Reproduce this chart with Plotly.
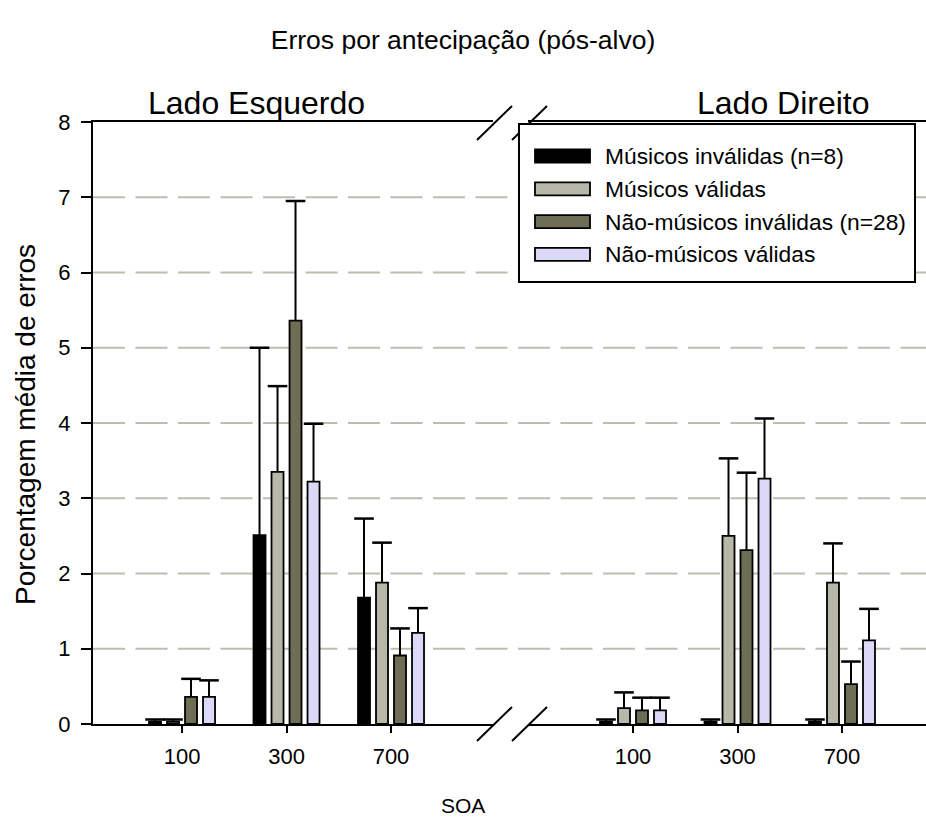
import plotly.graph_objects as go

# ---------------- data ----------------
categories = ["100", "300", "700"]
series_names = ["Músicos inválidas (n=8)", "Músicos válidas",
                "Não-músicos inválidas (n=28)", "Não-músicos válidas"]
series_colors = ["#000000", "#b8b8a8", "#6e6e56", "#dadaf8"]
panel_titles = ["Lado Esquerdo", "Lado Direito"]
y_ticks = [0, 1, 2, 3, 4, 5, 6, 7, 8]

# Lado Esquerdo (means and upper error)
left_mus_inv = [0.03, 2.51, 1.68]
left_mus_inv_err = [0.03, 2.49, 1.05]
left_mus_val = [0.03, 3.35, 1.88]
left_mus_val_err = [0.03, 1.14, 0.53]
left_nmus_inv = [0.36, 5.36, 0.91]
left_nmus_inv_err = [0.24, 1.59, 0.36]
left_nmus_val = [0.36, 3.22, 1.21]
left_nmus_val_err = [0.22, 0.77, 0.33]

# Lado Direito
right_mus_inv = [0.03, 0.03, 0.03]
right_mus_inv_err = [0.03, 0.03, 0.03]
right_mus_val = [0.21, 2.50, 1.88]
right_mus_val_err = [0.21, 1.03, 0.52]
right_nmus_inv = [0.18, 2.31, 0.53]
right_nmus_inv_err = [0.17, 1.03, 0.30]
right_nmus_val = [0.18, 3.26, 1.11]
right_nmus_val_err = [0.17, 0.80, 0.42]

left_values = [left_mus_inv, left_mus_val, left_nmus_inv, left_nmus_val]
left_errors = [left_mus_inv_err, left_mus_val_err, left_nmus_inv_err, left_nmus_val_err]
right_values = [right_mus_inv, right_mus_val, right_nmus_inv, right_nmus_val]
right_errors = [right_mus_inv_err, right_mus_val_err, right_nmus_inv_err, right_nmus_val_err]

# ---------------- layout constants ----------------
W, H = 926, 819
PLOT_TOP, PLOT_BOTTOM = 122, 724
FONT = "Liberation Sans, Arial, sans-serif"
BARGAP = 0.311
BARGROUPGAP = 0.333


def px_x(x):
    return x / W


def px_y(y):
    return (PLOT_BOTTOM - y) / (PLOT_BOTTOM - PLOT_TOP)


xs = list(range(len(categories)))
n_series = len(series_names)
slot = (1 - BARGAP) / n_series

fig = go.Figure()

panels = [("x", "y", left_values, left_errors), ("x2", "y2", right_values, right_errors)]
for xa, ya, vals, errs in panels:
    for k in range(n_series):
        fig.add_trace(go.Bar(
            x=xs, y=vals[k], name=series_names[k], xaxis=xa, yaxis=ya,
            marker=dict(color=series_colors[k], line=dict(color="black", width=1.8)),
            showlegend=False,
        ))
    # error bars (upper only)
    lx, ly, cx, cy = [], [], [], []
    for k in range(n_series):
        for i, x in enumerate(xs):
            xe = x + (k - (n_series - 1) / 2) * slot
            top = vals[k][i] + errs[k][i]
            lx += [xe, xe, None]
            ly += [vals[k][i], top, None]
            cx.append(xe)
            cy.append(top)
    fig.add_trace(go.Scatter(x=lx, y=ly, mode="lines", xaxis=xa, yaxis=ya,
                             line=dict(color="black", width=2), showlegend=False,
                             hoverinfo="skip"))
    fig.add_trace(go.Scatter(x=cx, y=cy, mode="markers", xaxis=xa, yaxis=ya,
                             marker=dict(symbol="line-ew", size=14,
                                         line=dict(color="black", width=2.5)),
                             showlegend=False, hoverinfo="skip"))

axis_common = dict(
    showgrid=False, zeroline=False, showline=True, linecolor="black", linewidth=2,
    mirror=True, ticks="outside", ticklen=7, tickwidth=2, tickcolor="black",
    tickvals=xs, ticktext=categories, ticklabelstandoff=5,
    tickfont=dict(family=FONT, size=22, color="black"),
)

fig.update_layout(
    width=W, height=H,
    margin=dict(l=0, r=0, t=PLOT_TOP, b=H - PLOT_BOTTOM, pad=0),
    paper_bgcolor="white", plot_bgcolor="rgba(0,0,0,0)",
    barmode="group", bargap=BARGAP, bargroupgap=BARGROUPGAP,
    showlegend=False,
    title=dict(text="Erros por antecipação (pós-alvo)", x=0.5, xanchor="center",
               y=1 - 40 / H, yanchor="middle",
               font=dict(family=FONT, size=26.5, color="black")),
    xaxis=dict(domain=[px_x(93), px_x(493)], range=[-0.852, 2.976], anchor="y",
               **axis_common),
    xaxis2=dict(domain=[px_x(528), 1.0], range=[-1.005, 2.804], anchor="y2",
                **axis_common),
    yaxis=dict(domain=[0, 1], range=[0, 8], anchor="x", showgrid=False, zeroline=False,
               showline=True, linecolor="black", linewidth=2, ticks="outside",
               ticklen=10, tickwidth=2, tickcolor="black", tickvals=y_ticks,
               ticklabelstandoff=6,
               tickfont=dict(family=FONT, size=22, color="black")),
    yaxis2=dict(domain=[0, 1], range=[0, 8], anchor="x2", showgrid=False,
                zeroline=False, showline=False, showticklabels=False, ticks=""),
)

shapes = []
# dashed gridlines spanning both panels
for v in y_ticks[1:-1]:
    shapes.append(dict(type="line", xref="paper", yref="y", x0=px_x(93), x1=1.0,
                       y0=v, y1=v, layer="below",
                       line=dict(color="#bdbdae", width=2, dash="32px,10.5px")))
# axis break marks
for yb in (PLOT_TOP + 1, PLOT_BOTTOM):
    for xb in (477, 512):
        shapes.append(dict(type="line", xref="paper", yref="paper",
                           x0=px_x(xb), y0=px_y(yb + 17), x1=px_x(xb + 35), y1=px_y(yb - 17),
                           line=dict(color="black", width=2)))
# legend box
shapes.append(dict(type="rect", xref="paper", yref="paper",
                   x0=px_x(519), x1=px_x(915), y0=px_y(282), y1=px_y(124),
                   fillcolor="white", line=dict(color="black", width=2)))
annotations = []
row_y0, row_dy = 156, 32.8
for k in range(n_series):
    yc = row_y0 + k * row_dy
    shapes.append(dict(type="rect", xref="paper", yref="paper",
                       x0=px_x(535), x1=px_x(590), y0=px_y(yc + 6.5), y1=px_y(yc - 6.5),
                       fillcolor=series_colors[k], line=dict(color="black", width=1.8)))
    annotations.append(dict(text=series_names[k], xref="paper", yref="paper",
                            x=px_x(603), y=px_y(yc), xanchor="left", yanchor="middle",
                            showarrow=False,
                            font=dict(family=FONT, size=22.8, color="black")))

# panel titles
for title, xc in zip(panel_titles, (256, 783)):
    annotations.append(dict(text=title, xref="paper", yref="paper", x=px_x(xc),
                            y=px_y(103), xanchor="center", yanchor="middle",
                            showarrow=False, font=dict(family=FONT, size=32, color="black")))
# axis titles
annotations.append(dict(text="Porcentagem média de erros", xref="paper", yref="paper",
                        x=px_x(25), y=px_y(425), xanchor="center", yanchor="middle",
                        textangle=-90, showarrow=False,
                        font=dict(family=FONT, size=28, color="black")))
annotations.append(dict(text="SOA", xref="paper", yref="paper", x=px_x(463),
                        y=px_y(805), xanchor="center", yanchor="middle",
                        showarrow=False, font=dict(family=FONT, size=21, color="black")))

fig.update_layout(shapes=shapes, annotations=annotations)
fig.write_html("out.html", config={"displayModeBar": False},
               post_script="document.body.style.margin='0';document.body.style.padding='0';")
